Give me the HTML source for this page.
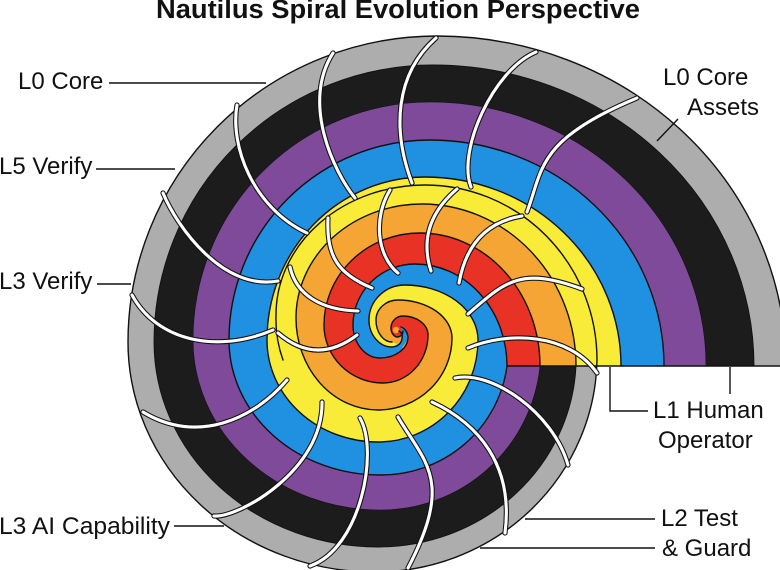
<!DOCTYPE html>
<html><head><meta charset="utf-8"><style>
html,body{margin:0;padding:0;background:#fff;width:780px;height:570px;overflow:hidden}
svg{display:block}
text{font-family:"Liberation Sans",sans-serif;fill:#111;font-size:24px}
</style></head><body>
<svg width="780" height="570" viewBox="0 0 780 570" xmlns="http://www.w3.org/2000/svg">
<rect width="780" height="570" fill="#fff"/>
<!-- first whorl -->
<path fill="#adadad" d="M786 366A349 330 0 0 0 437 36A309 306 0 0 0 128 342A247 230 0 0 0 375 572A222 216 0 0 0 597 366Z"/>
<path fill="#1c1c1c" d="M754 366A321 301 0 0 0 433 65A279 277 0 0 0 154 342A224 205 0 0 0 378 547A198 190 0 0 0 576 366Z"/>
<path fill="#7f4a9a" d="M706 366A276 264 0 0 0 430 102A237 238 0 0 0 193 340A187 170 0 0 0 380 510A160 160 0 0 0 540 366Z"/>
<path fill="#2090e0" d="M664 366A234 226 0 0 0 430 140A201 200 0 0 0 229 340A151 135 0 0 0 380 475A127 125 0 0 0 507 366Z"/>
<path fill="#f8ec38" d="M621 366A196 189 0 0 0 425 177A158 163 0 0 0 267 340A111 102 0 0 0 378 442A100 102 0 0 0 475 366Z"/>
<!-- second whorl -->
<path fill="#f4a534" d="M576 366A154 162 0 0 0 422 204A126 114 0 0 0 296 318A82 92 0 0 0 378 410A74 72 0 0 0 446 366Z"/>
<path fill="#e83226" d="M540 366A120 133 0 0 0 420 233A96 92 0 0 0 324 325A59 58 0 0 0 383 383A45 48 0 0 0 417 366Z"/>
<path fill="#2090e0" d="M507 366A92 102 0 0 0 415 264A62 61 0 0 0 353 325A27 33 0 0 0 380 358A28 21 0 0 0 408 337L408 366Z"/>
<path fill="#f8ec38" d="M475 366A100 102 0 0 0 478 340A73 55 0 0 0 405 285A36 35 0 0 0 369 320A23 27 0 0 0 392 347A10 9 0 0 0 402 338L410 342L420 366Z"/>
<!-- third whorl -->
<path fill="#f4a534" d="M446 366A74 72 0 0 0 452 338A54 38 0 0 0 398 300A22 20 0 0 0 376 320A16 22 0 0 0 392 342L400 345L420 366Z"/>
<path fill="#e83226" d="M417 366A45 48 0 0 0 428 335A25 19 0 0 0 403 316A12 12 0 0 0 391 328A7 9 0 0 0 397 337A6 6 0 0 0 403 331L408 337A28 21 0 0 1 380 358L380 366Z"/>
<path fill="#2090e0" d="M384 350Q392 347 396 345Q404 342 402 334L401 327Q410 332 408 337Q404 352 380 358Z"/>
<circle cx="396" cy="330" r="3.200" fill="#f4a534"/>
<!-- outlines -->
<g fill="none" stroke="#111" stroke-width="1.4" stroke-linecap="round">
<path d="M786 366A349 330 0 0 0 437 36A309 306 0 0 0 128 342A247 230 0 0 0 375 572A222 216 0 0 0 597 360A172 175 0 0 0 425 185A149 130 0 0 0 276 315A120 120 0 0 0 283 360"/>
<path stroke-width=".9" d="M754 366A321 301 0 0 0 433 65A279 277 0 0 0 154 342A224 205 0 0 0 378 547A198 190 0 0 0 576 366"/>
<path d="M576 366A154 162 0 0 0 422 204A126 114 0 0 0 296 318A82 92 0 0 0 378 410A74 72 0 0 0 452 338A54 38 0 0 0 398 300A22 20 0 0 0 376 320A16 22 0 0 0 392 342"/>
<path d="M540 366A120 133 0 0 0 420 233A96 92 0 0 0 324 325A59 58 0 0 0 383 383A45 48 0 0 0 428 335A25 19 0 0 0 403 316A12 12 0 0 0 391 328A7 9 0 0 0 397 337A6 6 0 0 0 403 331"/>
<path d="M664 366A234 226 0 0 0 430 140A201 200 0 0 0 229 340A151 135 0 0 0 380 475A127 125 0 0 0 507 366"/>
<path d="M507 366A92 102 0 0 0 415 264A62 61 0 0 0 353 325A27 33 0 0 0 380 358A28 21 0 0 0 408 337A9 12 0 0 0 401 327"/>
<path d="M621 366A196 189 0 0 0 425 177A158 163 0 0 0 267 340A111 102 0 0 0 378 442A100 102 0 0 0 478 340A73 55 0 0 0 405 285A36 35 0 0 0 369 320A23 27 0 0 0 392 347A10 9 0 0 0 402 338A6 6 0 0 0 399 331"/>
<path d="M706 366A276 264 0 0 0 430 102" stroke-width=".6"/>
<path d="M430 102A237 238 0 0 0 193 340A187 170 0 0 0 380 510A160 160 0 0 0 540 366" stroke-width=".6"/>
<path d="M507 366H780" stroke-width="1.5"/>
</g>
<!-- ribs -->
<g fill="none" stroke-linecap="round">
<path stroke="#111" stroke-width="5.2" d="M333 53C301 103 334 172 355 198M237 105C230 145 252 207 307 233M163 193C177 227 223 291 278 281M132 295C157 341 217 354 273 330M143 412C197 445 254 419 287 380M214 516C238 518 323 471 322 402M310 566C361 548 379 451 360 418M408 568C454 480 425 463 398 417M505 533C514 464 477 423 432 402M568 465C553 412 491 370 455 378M597 373C569 333 508 331 468 348M582 289C520 266 505 282 468 314M522 216Q469.500 224.500 459 283M457 189Q416 224 431 271M390 190C373 218 377 256 398 273M328 218C326 256 338 274 372 288M290 267C296 294 320 310 358 311M278 333Q316.500 366 357 335M637 98C536 140 543 170 527 212M536 52C493 70 457 151 471 187M436 38C395 74 392 130 412 183"/>
<path stroke="#fff" stroke-width="3.1" d="M333 53C301 103 334 172 355 198M237 105C230 145 252 207 307 233M163 193C177 227 223 291 278 281M132 295C157 341 217 354 273 330M143 412C197 445 254 419 287 380M214 516C238 518 323 471 322 402M310 566C361 548 379 451 360 418M408 568C454 480 425 463 398 417M505 533C514 464 477 423 432 402M568 465C553 412 491 370 455 378M597 373C569 333 508 331 468 348M582 289C520 266 505 282 468 314M522 216Q469.500 224.500 459 283M457 189Q416 224 431 271M390 190C373 218 377 256 398 273M328 218C326 256 338 274 372 288M290 267C296 294 320 310 358 311M278 333Q316.500 366 357 335M637 98C536 140 543 170 527 212M536 52C493 70 457 151 471 187M436 38C395 74 392 130 412 183"/>
</g>
<!-- leaders -->
<g fill="none" stroke="#111" stroke-width="1.4">
<path d="M109 83H266M96 169H175M97 284H131M174 526H224M610 367V411H648M730 367V394M525 519H655M480 548H655M657 141L678 119"/>
</g>
<!-- labels -->
<text x="156" y="18" textLength="484" lengthAdjust="spacingAndGlyphs" style="font-weight:bold;font-size:25.5px">Nautilus Spiral Evolution Perspective</text>
<text x="18" y="89">L0 Core</text>
<text x="-1" y="174">L5 Verify</text>
<text x="-1" y="289">L3 Verify</text>
<text x="-1" y="534" textLength="171" lengthAdjust="spacingAndGlyphs">L3 AI Capability</text>
<text x="663" y="85">L0 Core</text>
<text x="687" y="115">Assets</text>
<text x="653" y="418">L1 Human</text>
<text x="658" y="448">Operator</text>
<text x="661" y="526">L2 Test</text>
<text x="662" y="556">&amp; Guard</text>
</svg>
</body></html>
